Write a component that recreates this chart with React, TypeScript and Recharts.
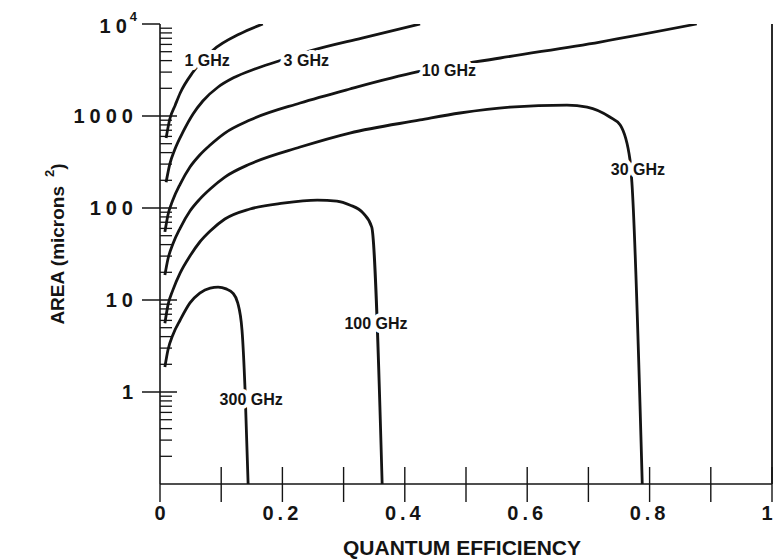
import { LineChart, Line, XAxis, YAxis, ReferenceDot } from 'recharts'

// contour curves, area (microns^2) vs quantum efficiency
const GHZ_1 = [
  { x: 0.01, y: 577 }, { x: 0.016, y: 928 }, { x: 0.025, y: 1320 }, { x: 0.033, y: 1780 },
  { x: 0.054, y: 3010 }, { x: 0.087, y: 5220 }, { x: 0.13, y: 7790 }, { x: 0.168, y: 10000 },
]
const GHZ_3 = [
  { x: 0.01, y: 191 }, { x: 0.016, y: 300 }, { x: 0.024, y: 430 }, { x: 0.038, y: 680 },
  { x: 0.054, y: 1052 }, { x: 0.07, y: 1456 }, { x: 0.095, y: 2066 }, { x: 0.12, y: 2600 },
  { x: 0.155, y: 3243 }, { x: 0.189, y: 3865 }, { x: 0.25, y: 5200 }, { x: 0.33, y: 7040 },
  { x: 0.425, y: 10000 },
]
const GHZ_10 = [
  { x: 0.008, y: 55 }, { x: 0.013, y: 84 }, { x: 0.021, y: 122 }, { x: 0.033, y: 182 },
  { x: 0.049, y: 279 }, { x: 0.065, y: 377 }, { x: 0.082, y: 484 }, { x: 0.106, y: 653 },
  { x: 0.147, y: 905 }, { x: 0.229, y: 1385 }, { x: 0.31, y: 1965 }, { x: 0.42, y: 3010 },
  { x: 0.556, y: 4270 }, { x: 0.719, y: 6370 }, { x: 0.877, y: 10000 },
]
const GHZ_30 = [
  { x: 0.008, y: 18.7 }, { x: 0.013, y: 27.9 }, { x: 0.021, y: 40.6 }, { x: 0.033, y: 60.6 },
  { x: 0.049, y: 92.8 }, { x: 0.065, y: 125 }, { x: 0.082, y: 161 }, { x: 0.106, y: 217 },
  { x: 0.147, y: 301 }, { x: 0.229, y: 460 }, { x: 0.31, y: 653 }, { x: 0.425, y: 905 },
  { x: 0.49, y: 1078 }, { x: 0.572, y: 1250 }, { x: 0.665, y: 1315 }, { x: 0.698, y: 1250 },
  { x: 0.735, y: 975 }, { x: 0.752, y: 798 }, { x: 0.768, y: 332 }, { x: 0.771, y: 192 },
  { x: 0.788, y: 0.1 },
]
const GHZ_100 = [
  { x: 0.008, y: 5.6 }, { x: 0.013, y: 8.8 }, { x: 0.021, y: 12.8 }, { x: 0.033, y: 19.7 },
  { x: 0.049, y: 30.1 }, { x: 0.065, y: 42.7 }, { x: 0.082, y: 56.2 }, { x: 0.106, y: 75.9 },
  { x: 0.147, y: 97.5 }, { x: 0.201, y: 113 }, { x: 0.257, y: 122 }, { x: 0.289, y: 119 },
  { x: 0.31, y: 108 }, { x: 0.332, y: 88 }, { x: 0.346, y: 62 }, { x: 0.363, y: 0.1 },
]
const GHZ_300 = [
  { x: 0.008, y: 1.87 }, { x: 0.013, y: 2.86 }, { x: 0.021, y: 4.17 }, { x: 0.033, y: 6.06 },
  { x: 0.049, y: 9.3 }, { x: 0.065, y: 11.9 }, { x: 0.082, y: 13.5 }, { x: 0.095, y: 13.8 },
  { x: 0.108, y: 13.2 }, { x: 0.119, y: 11.9 }, { x: 0.127, y: 9.3 }, { x: 0.134, y: 4.7 },
  { x: 0.139, y: 1.05 }, { x: 0.144, y: 0.1 },
]

const SERIES = [GHZ_1, GHZ_3, GHZ_10, GHZ_30, GHZ_100, GHZ_300]

// curve labels (anchor in data coords)
const CURVE_LABELS = [
  { text: '1 GHz', x: 0.077, y: 4060 },
  { text: '3 GHz', x: 0.239, y: 4060 },
  { text: '10 GHz', x: 0.472, y: 3160 },
  { text: '30 GHz', x: 0.781, y: 259 },
  { text: '100 GHz', x: 0.353, y: 5.62 },
  { text: '300 GHz', x: 0.149, y: 0.82 },
]

const X_TICKS = [0, 0.1, 0.2, 0.3, 0.4, 0.5, 0.6, 0.7, 0.8, 0.9, 1]
const X_TOP_TICKS = [0.1, 0.2, 0.3, 0.4, 0.5, 0.6, 0.7, 0.8, 0.9]
const X_LABELED = [0, 0.2, 0.4, 0.6, 0.8, 1]
const Y_MAJOR = [1, 10, 100, 1000, 10000]
const Y_MINOR = [
  0.2, 0.3, 0.4, 0.5, 0.6, 0.7, 0.8, 0.9,
  2, 3, 4, 5, 6, 7, 8, 9,
  20, 30, 40, 50, 60, 70, 80, 90,
  200, 300, 400, 500, 600, 700, 800, 900,
  2000, 3000, 4000, 5000, 6000, 7000, 8000, 9000,
]
const Y_TICKS = [...Y_MINOR, ...Y_MAJOR].sort((a, b) => a - b)

const INK = '#141414'
const FONT = '"Liberation Sans", Arial, Helvetica, sans-serif'

function LeftTick(props: any) {
  const { x, y, payload } = props
  const v = payload.value
  const major = Y_MAJOR.includes(v)
  if (!major) {
    return <line x1={x} x2={x + 12} y1={y} y2={y} stroke={INK} strokeWidth={1.3} />
  }
  return (
    <g>
      <line x1={x - 18} x2={v === 10000 ? x : x + 17} y1={y} y2={y} stroke={INK} strokeWidth={1.5} />
      {v === 10000 ? (
        <text x={x - 23} y={y + 9} textAnchor="end" fontFamily={FONT} fontWeight="bold" fontSize={20} fill={INK}>
          <tspan letterSpacing={5}>1</tspan>
          <tspan>0</tspan>
          <tspan dx={3} dy={-12} fontSize={13}>4</tspan>
        </text>
      ) : (
        <text x={x - 22} y={y + 7} textAnchor="end" fontFamily={FONT} fontWeight="bold" fontSize={20} fill={INK} letterSpacing={5}>
          {String(v)}
        </text>
      )}
    </g>
  )
}

function RightTick(props: any) {
  const { x, y, payload } = props
  const major = Y_MAJOR.includes(payload.value)
  return <line x1={x - (major ? 17 : 10)} x2={x + (major ? 4 : 0)} y1={y} y2={y} stroke={INK} strokeWidth={1.3} />
}

function BottomTick(props: any) {
  const { x, y, payload } = props
  const v = payload.value
  const labeled = X_LABELED.some((t) => Math.abs(t - v) < 1e-9)
  return (
    <g>
      <line x1={x} x2={x} y1={v === 0 ? y : y - 17} y2={y + 18} stroke={INK} strokeWidth={1.4} />
      {labeled && (
        <text
          x={v === 1 ? x - 5 : x}
          y={y + 36}
          textAnchor="middle"
          fontFamily={FONT}
          fontWeight="bold"
          fontSize={20}
          fill={INK}
          letterSpacing={v === 0 || v === 1 ? 0 : 4}
        >
          {v === 0 ? '0' : v === 1 ? '1' : v.toFixed(1)}
        </text>
      )}
    </g>
  )
}

function TopTick(props: any) {
  const { x, y } = props
  return <line x1={x} x2={x} y1={y} y2={y + 18} stroke={INK} strokeWidth={1.3} />
}

function CurveLabel(text: string) {
  return (p: any) => (
    <text
      x={p.cx}
      y={p.cy}
      textAnchor="middle"
      dominantBaseline="central"
      fontFamily={FONT}
      fontWeight="bold"
      fontSize={16}
      fill={INK}
      stroke="#fff"
      strokeWidth={8}
      paintOrder="stroke"
      strokeLinejoin="round"
    >
      {text}
    </text>
  )
}

export default function App() {
  return (
    <div style={{ position: 'absolute', left: 0, top: 0, width: 774, height: 559, background: '#fff' }}>
      <LineChart width={774} height={559} margin={{ top: 24, right: 0, bottom: 0, left: 0 }}>
        <XAxis
          dataKey="x"
          type="number"
          domain={[0, 1]}
          ticks={X_TICKS}
          interval={0}
          allowDataOverflow
          height={75}
          tickSize={0}
          tickMargin={0}
          tickLine={false}
          tick={<BottomTick />}
          axisLine={{ stroke: INK, strokeWidth: 1.6 }}
          label={() => (
            <text x={462} y={555} textAnchor="middle" fontFamily={FONT} fontWeight="bold" fontSize={21} fill={INK}>
              QUANTUM EFFICIENCY
            </text>
          )}
        />
        <XAxis
          xAxisId="top"
          orientation="top"
          type="number"
          domain={[0, 1]}
          ticks={X_TOP_TICKS}
          interval={0}
          height={0}
          tickSize={0}
          tickMargin={0}
          tickLine={false}
          tick={<TopTick />}
          axisLine={{ stroke: INK, strokeWidth: 1.6 }}
        />
        <YAxis
          type="number"
          scale="log"
          domain={[0.1, 10000]}
          ticks={Y_TICKS}
          interval={0}
          allowDataOverflow
          width={160}
          tickSize={0}
          tickMargin={0}
          tickLine={false}
          tick={<LeftTick />}
          axisLine={{ stroke: INK, strokeWidth: 1.6 }}
          label={() => (
            <text
              x={57}
              y={244}
              transform="rotate(-90, 57, 244)"
              textAnchor="middle"
              dominantBaseline="central"
              fontFamily={FONT}
              fontWeight="bold"
              fontSize={19}
              fill={INK}
            >
              AREA (microns
              <tspan dx={9} dy={-8} fontSize={13}>2</tspan>
              <tspan dy={8}>)</tspan>
            </text>
          )}
        />
        <YAxis
          yAxisId="right"
          orientation="right"
          type="number"
          scale="log"
          domain={[0.1, 10000]}
          ticks={Y_TICKS}
          interval={0}
          width={2}
          tickSize={0}
          tickMargin={0}
          tickLine={false}
          tick={<RightTick />}
          axisLine={{ stroke: INK, strokeWidth: 1.8 }}
        />
        {SERIES.map((d, i) => (
          <Line
            key={i}
            data={d}
            dataKey="y"
            type="monotone"
            stroke={INK}
            strokeWidth={2.8}
            dot={false}
            activeDot={false}
            isAnimationActive={false}
          />
        ))}
        {CURVE_LABELS.map((l) => (
          <ReferenceDot key={l.text} x={l.x} y={l.y} r={0} shape={CurveLabel(l.text)} />
        ))}
      </LineChart>
    </div>
  )
}
